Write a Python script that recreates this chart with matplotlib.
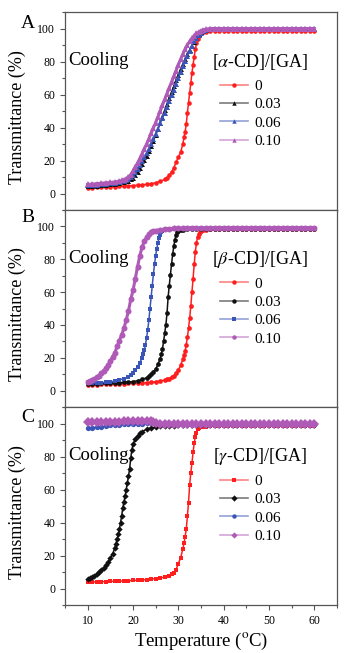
import matplotlib
matplotlib.use("Agg")
import matplotlib.pyplot as plt
from matplotlib.lines import Line2D
from matplotlib.ticker import MultipleLocator
from matplotlib.colors import to_rgba

plt.rcParams['font.family'] = ['Liberation Serif', 'DejaVu Serif']
plt.rcParams['mathtext.fontset'] = 'stix'

# ---------------- data (Temperature degC, Transmittance %) ----------------
concentrations = ["0", "0.03", "0.06", "0.10"]
panel_letters = ["A", "B", "C"]
cd_names = [r"[$\alpha$-CD]/[GA]", r"[$\beta$-CD]/[GA]", r"[$\gamma$-CD]/[GA]"]

flat_T = [37, 38, 39, 40, 41, 42, 43, 44, 45, 46, 47, 48, 49, 50, 51, 52, 53, 54, 55, 56, 57, 58, 59, 60]

# Panel A : alpha-CD
A_0 = [(10, 3.5), (11, 3.6), (12, 3.7), (13, 3.8), (14, 3.9), (15, 4.0), (16, 4.1), (17, 4.3), (18, 4.4),
       (19, 4.6), (20, 4.8), (21, 5.0), (22, 5.3), (23, 5.6), (24, 6.0), (25, 6.5), (26, 7.3), (27, 8.5),
       (27.5, 9.5), (28, 11), (28.5, 13), (29, 15.5), (29.5, 19), (30, 22), (30.5, 25), (31, 30),
       (31.25, 34), (31.5, 37.5), (31.75, 42), (32, 49), (32.25, 55), (32.5, 61), (32.75, 67), (33, 73),
       (33.25, 78), (33.5, 83), (33.75, 87.5), (34, 91), (34.25, 93.5), (34.5, 95.5), (34.75, 96.5),
       (35, 97.3), (35.5, 97.8), (36, 98.0)] + [(t, 98.3) for t in flat_T]
A_003 = [(10, 4.5), (11, 4.6), (12, 4.8), (13, 5.0), (14, 5.2), (15, 5.5), (16, 5.8), (17, 6.2), (18, 6.8),
         (19, 7.8), (19.5, 8.5), (20, 9.5), (20.5, 11), (21, 13), (21.5, 15.5), (22, 18), (22.5, 20.5),
         (23, 23), (23.5, 26), (24, 29), (24.5, 32), (25, 35.5), (25.5, 39), (26, 43), (26.5, 46.5),
         (27, 50.5), (27.5, 54), (28, 58), (28.5, 61.5), (29, 65), (29.5, 68.5), (30, 72), (30.5, 75.5),
         (31, 78.5), (31.5, 81.5), (32, 84.5), (32.5, 87), (33, 89.5), (33.5, 92), (34, 94.5), (34.5, 96.5),
         (35, 97.8), (35.5, 98.5), (36, 99.0)] + [(t, 99.4) for t in flat_T]
A_006 = [(10, 5.0), (11, 5.1), (12, 5.3), (13, 5.5), (14, 5.8), (15, 6.1), (16, 6.5), (17, 7.0), (18, 7.5),
         (18.5, 8.2), (19, 9), (19.5, 10.2), (20, 11.5), (20.5, 13.2), (21, 15), (21.5, 17.2), (22, 19.5),
         (22.5, 22), (23, 24.5), (23.5, 27.2), (24, 30), (24.5, 33), (25, 36), (25.5, 39.2), (26, 42.5),
         (26.5, 45.7), (27, 49), (27.5, 52.5), (28, 56), (28.5, 59.5), (29, 63), (29.5, 66.5), (30, 70),
         (30.5, 73.5), (31, 77), (31.5, 80.3), (32, 83.5), (32.5, 86.5), (33, 89.5), (33.5, 92.2), (34, 94.5),
         (34.5, 96.2), (35, 97.5), (35.5, 98.4), (36, 99.0)] + [(t, 99.8) for t in flat_T]
A_010 = [(10, 5.5), (11, 5.7), (12, 6.0), (13, 6.2), (14, 6.5), (15, 6.7), (16, 7.0), (17, 7.5), (17.5, 7.9),
         (18, 8.3), (18.5, 9), (19, 10), (19.5, 11.5), (20, 13.5), (20.5, 16), (21, 18.5), (21.5, 21.2),
         (22, 24), (22.5, 27), (23, 30), (23.5, 33.2), (24, 36.5), (24.5, 39.7), (25, 43), (25.5, 46.5),
         (26, 50), (26.5, 53.5), (27, 57), (27.5, 60.5), (28, 64), (28.5, 67.5), (29, 71), (29.5, 74.5),
         (30, 78), (30.5, 81.3), (31, 84.5), (31.5, 87.3), (32, 90), (32.5, 92.2), (33, 94), (33.5, 95.7),
         (34, 97), (34.5, 97.9), (35, 98.6), (35.5, 99.1), (36, 99.5)] + [(t, 100.0) for t in flat_T]

# Panel B : beta-CD
B_0 = [(10, 3.5), (11, 3.6), (12, 3.7), (13, 3.8), (14, 3.9), (15, 4.0), (16, 4.1), (17, 4.2), (18, 4.3),
       (19, 4.4), (20, 4.5), (21, 4.6), (22, 4.8), (23, 4.9), (24, 5.1), (25, 5.4), (26, 5.8), (27, 6.4),
       (27.5, 6.8), (28, 7.3), (28.5, 8), (29, 9), (29.5, 10.5), (30, 12.5), (30.5, 15.5), (31, 19),
       (31.25, 21.5), (31.5, 24), (31.75, 28), (32, 32.5), (32.25, 38), (32.5, 44), (32.75, 51.5), (33, 60),
       (33.25, 68), (33.5, 77), (33.75, 84.5), (34, 90), (34.25, 93.5), (34.5, 95.5), (34.75, 96.8),
       (35, 97.5), (35.5, 97.9), (36, 98.0)] + [(t, 98.3) for t in flat_T]
B_003 = [(10, 4.2), (11, 4.2), (12, 4.3), (13, 4.4), (14, 4.5), (15, 4.6), (16, 4.7), (17, 4.8), (18, 5.0),
         (19, 5.2), (20, 5.5), (21, 6.0), (22, 6.8), (23, 7.8), (23.5, 8.8), (24, 10), (24.5, 11.5), (25, 13),
         (25.5, 16), (26, 19.5), (26.25, 22), (26.5, 25.5), (26.75, 30), (27, 35), (27.25, 40), (27.5, 47),
         (27.75, 57), (28, 64), (28.25, 70.5), (28.5, 77), (28.75, 83), (29, 88), (29.25, 92), (29.5, 94.5),
         (29.75, 96.3), (30, 97.2), (30.5, 97.8), (31, 98.0), (32, 98.2), (33, 98.3), (34, 98.3), (35, 98.4),
         (36, 98.4)] + [(t, 98.5) for t in flat_T]
B_006 = [(10, 4.5), (11, 4.6), (12, 4.7), (13, 4.8), (14, 5.0), (15, 5.3), (16, 5.8), (17, 6.5), (18, 7.3),
         (19, 8.5), (19.5, 9.5), (20, 11), (20.5, 12.5), (21, 14.5), (21.5, 17), (22, 20), (22.25, 22),
         (22.5, 24.5), (22.75, 28), (23, 32), (23.25, 37), (23.5, 43), (23.75, 50), (24, 57), (24.25, 64),
         (24.5, 71), (24.75, 77), (25, 82), (25.25, 86.5), (25.5, 90), (25.75, 93), (26, 95), (26.25, 96.5),
         (26.5, 97.3), (27, 98.0), (28, 98.3), (29, 98.5), (30, 98.6), (31, 98.7), (32, 98.8), (33, 98.8),
         (34, 98.9), (35, 98.9), (36, 99.0)] + [(t, 99.0) for t in flat_T]
B_010 = [(10, 5.5), (10.5, 6), (11, 6.5), (11.5, 7.2), (12, 8), (12.5, 9), (13, 10.5), (13.5, 12), (14, 13.5),
         (14.5, 15.5), (15, 18), (15.5, 20.5), (16, 23), (16.5, 27), (17, 30.5), (17.5, 34), (18, 38),
         (18.5, 43), (19, 48.5), (19.5, 55.5), (20, 61), (20.5, 68), (21, 75.5), (21.5, 82), (22, 87.5),
         (22.5, 91), (23, 93.5), (23.5, 95.3), (24, 96.3), (24.5, 97), (25, 97.5), (26, 98.0), (27, 98.4),
         (28, 98.6), (29, 98.8), (30, 98.9), (31, 99.0), (32, 99.0), (33, 99.1), (34, 99.1), (35, 99.1),
         (36, 99.1)] + [(t, 99.2) for t in flat_T]

# Panel C : gamma-CD
C_0 = [(10, 3.8), (11, 3.9), (12, 4.0), (13, 4.1), (14, 4.2), (15, 4.3), (16, 4.4), (17, 4.5), (18, 4.6),
       (19, 4.7), (20, 4.9), (21, 5.0), (22, 5.2), (23, 5.4), (24, 5.7), (25, 6.0), (26, 6.4), (27, 6.9),
       (28, 7.8), (28.5, 8.5), (29, 9.5), (29.5, 11.5), (30, 15), (30.5, 18.5), (31, 24), (31.25, 27.5),
       (31.5, 31.5), (31.75, 36), (32, 44), (32.25, 52), (32.5, 63), (32.75, 70), (33, 76), (33.25, 82.5),
       (33.5, 88), (33.75, 92), (34, 94.5), (34.25, 96.5), (34.5, 97.3), (35, 97.8), (35.5, 98.0),
       (36, 98.1)] + [(t, 98.3) for t in flat_T]
C_003 = [(10, 6.0), (10.5, 6.3), (11, 6.8), (11.5, 7.5), (12, 8.5), (12.5, 9.8), (13, 11), (13.5, 12.5),
         (14, 14), (14.5, 16), (15, 18.5), (15.5, 21), (16, 24.5), (16.25, 27), (16.5, 30), (16.75, 33),
         (17, 36), (17.25, 40), (17.5, 44), (17.75, 49), (18, 52.5), (18.25, 56), (18.5, 60), (18.75, 64),
         (19, 68), (19.25, 72.5), (19.5, 79), (19.75, 84), (20, 87.5), (20.5, 90.5), (21, 92.5), (21.5, 94),
         (22, 95), (23, 96.5), (24, 97.3), (25, 97.8), (26, 98.2), (27, 98.4), (28, 98.6), (29, 98.7),
         (30, 98.8), (31, 98.9), (32, 99.0), (33, 99.0), (34, 99.0), (35, 99.0), (36, 99.0)] + \
        [(t, 99.0) for t in flat_T]
C_006 = [(10, 97.0), (11, 97.4), (12, 97.8), (13, 98.1), (14, 98.5), (15, 98.8), (16, 99.0), (17, 99.3),
         (18, 99.5), (19, 99.7), (20, 99.8), (21, 99.9), (22, 100.0), (23, 100.2), (24, 100.3), (25, 100.4),
         (26, 100.5), (27, 100.4), (28, 100.3), (29, 100.2), (30, 100.0), (31, 99.9), (32, 99.9), (33, 99.8),
         (34, 99.8), (35, 99.8), (36, 99.7)] + [(t, 99.5) for t in flat_T]
C_010 = [(10, 101.0), (11, 101.0), (12, 101.1), (13, 101.1), (14, 101.1), (15, 101.2), (16, 101.2),
         (17, 101.2), (18, 101.3), (19, 101.3), (20, 101.3), (21, 101.3), (22, 101.4), (23, 101.4),
         (24, 101.3), (24.5, 100.8), (25, 100.2), (26, 100.0), (27, 99.9), (28, 99.9), (29, 99.8), (30, 99.8),
         (31, 99.8), (32, 99.7), (33, 99.7), (34, 99.7), (35, 99.7), (36, 99.7)] + [(t, 99.5) for t in flat_T]

panels = [[A_0, A_003, A_006, A_010], [B_0, B_003, B_006, B_010], [C_0, C_003, C_006, C_010]]

# ---------------- styling ----------------
colors = ['#ff1e1e', '#111111', '#3a55b8', '#b05ab8']
markers = [['o', '^', '^', '^'], ['o', 'o', 's', 'o'], ['s', 'D', 'o', 'D']]
msizes = [[3.3, 3.6, 3.8, 4.6], [3.4, 3.4, 3.4, 4.3], [3.2, 3.2, 3.8, 4.6]]
spine_col = '#555555'

fig = plt.figure(figsize=(3.63, 6.53), dpi=100)
W, H = 363.0, 653.0
left, right = 65 / W, 337 / W
tops = [12, 210, 407]
bots = [210, 407, 605]

for i in range(3):
    ax = fig.add_axes([left, 1 - bots[i] / H, right - left, (bots[i] - tops[i]) / H])
    for j, series in enumerate(panels[i]):
        T = [p[0] for p in series]
        Y = [p[1] for p in series]
        c = colors[j]
        lw = 2.2 if j == 3 else 1.1
        ax.plot(T, Y, color=c, lw=lw, marker=markers[i][j], ms=msizes[i][j],
                markeredgewidth=0, markerfacecolor=c, zorder=2 + j)
    ax.set_xlim(5, 65)
    ax.set_ylim(-10, 110)
    ax.xaxis.set_major_locator(MultipleLocator(10))
    ax.xaxis.set_minor_locator(MultipleLocator(5))
    ax.yaxis.set_major_locator(MultipleLocator(20))
    ax.yaxis.set_minor_locator(MultipleLocator(10))
    ax.tick_params(axis='both', which='both', direction='out', color=spine_col, width=0.8,
                   labelsize=8.5, top=False, right=False)
    ax.tick_params(which='major', length=3.5)
    ax.tick_params(which='minor', length=2.2)
    for s in ax.spines.values():
        s.set_color(spine_col)
        s.set_linewidth(0.9)
    if i < 2:
        ax.tick_params(axis='x', labelbottom=False)
    else:
        ax.set_xlabel(r"Temperature ($^{\rm o}$C)", fontsize=13.5, labelpad=3)
    ax.set_ylabel("Transmittance (%)", fontsize=13)
    ax.yaxis.set_label_coords(-0.145, 0.47)

    ax.text(0.012, 0.755, "Cooling", transform=ax.transAxes, fontsize=13.5, va='center', ha='left')
    ax.text(0.717, 0.748, cd_names[i], transform=ax.transAxes, fontsize=13, va='center', ha='center')

    handles = []
    for j in range(4):
        c = colors[j]
        handles.append(Line2D([], [], color=to_rgba(c, 0.55), lw=1.2, marker=markers[i][j], ms=3.2,
                              markerfacecolor=c, markeredgecolor=c, markeredgewidth=0))
    ax.legend(handles, concentrations, loc='upper left', bbox_to_anchor=(0.57, 0.66), frameon=False,
              fontsize=11, handlelength=1.85, handletextpad=0.4, labelspacing=0.3, borderpad=0,
              borderaxespad=0, numpoints=1)

    fig.text(28 / W, 1 - [23, 218, 417][i] / H, panel_letters[i], fontsize=14, ha='center', va='center')

fig.savefig("out.png", dpi=100)
